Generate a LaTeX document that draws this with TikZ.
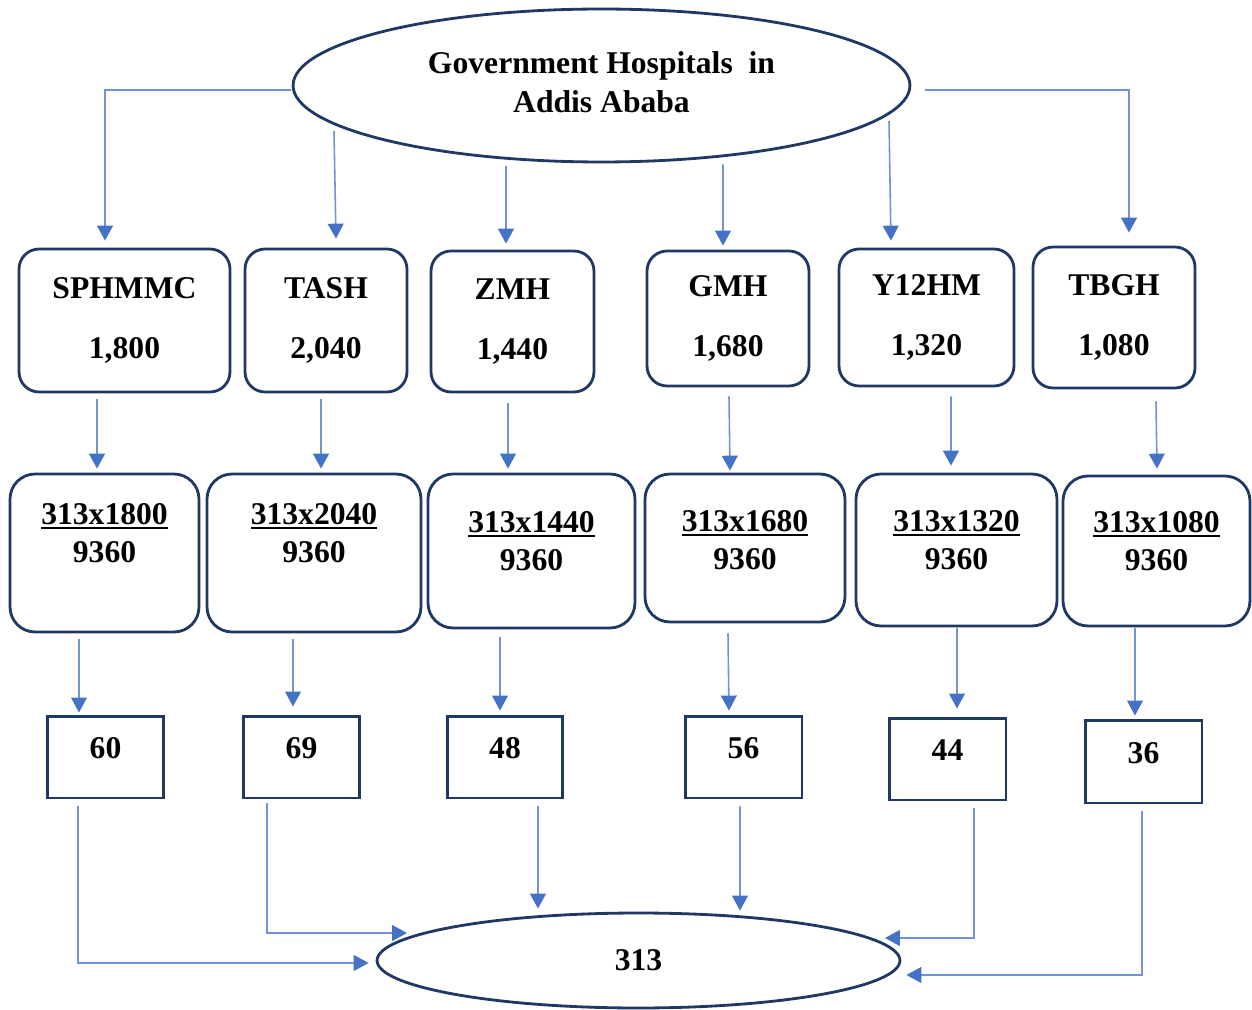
\documentclass[tikz,border=0pt]{standalone}
\usepackage{fontspec}
\setmainfont{Liberation Serif}
\usetikzlibrary{arrows.meta,calc,positioning,shapes.geometric}

\definecolor{boxnavy}{RGB}{31,56,100}
\definecolor{lineblue}{RGB}{112,148,214}
\definecolor{tipblue}{RGB}{68,114,196}

% thick underline and an invisible strut that lifts the text
\newcommand{\ulbar}[1]{\setbox0\hbox{#1}\rlap{\rule[-2.6pt]{\wd0}{1.1pt}}\box0}
\newcommand{\dn}[1]{\rule[-#1]{0pt}{#1}}

\tikzset{
  txt/.style={font=\bfseries\fontsize{18}{22}\selectfont, align=center},
  oval/.style={txt, ellipse, draw=boxnavy, line width=1.6pt, inner sep=0pt},
  hosp/.style={txt, draw=boxnavy, line width=1.6pt, rounded corners=0.4cm},
  calcbox/.style={txt, draw=boxnavy, line width=1.6pt, rounded corners=0.5cm},
  numbox/.style={txt, draw=boxnavy, line width=1.7pt},
  arr/.style={draw=lineblue, line width=0.9pt,
    -{Triangle[length=8.5pt,width=9pt,color=tipblue]}}
}

\begin{document}
\begin{tikzpicture}[x=0.02cm,y=-0.02cm]
  \useasboundingbox (0,0) rectangle (1252,1010);

  % Top and bottom ellipses
  \node[oval, minimum width=12.34cm, minimum height=3.06cm] (top) at (601.5,85.5)
    {Government Hospitals\ \ in\\Addis Ababa\dn{4pt}};
  \node[oval, minimum width=10.46cm, minimum height=1.9cm] (total) at (638.5,960.5) {313};

  % Hospitals
  \node[hosp, minimum width=4.22cm, minimum height=2.86cm] (s1) at (124.5,320.5) {SPHMMC\\[12.6pt]1,800};
  \node[hosp, minimum width=3.24cm, minimum height=2.86cm] (s2) at (326,320.5) {TASH\\[12.6pt]2,040};
  \node[hosp, minimum width=3.26cm, minimum height=2.82cm] (s3) at (512.5,321.5) {ZMH\\[12.6pt]1,440};
  \node[hosp, minimum width=3.24cm, minimum height=2.70cm] (s4) at (728,318.5) {GMH\\[12.6pt]1,680};
  \node[hosp, minimum width=3.50cm, minimum height=2.74cm] (s5) at (926.5,317.5) {Y12HM\\[12.6pt]1,320};
  \node[hosp, minimum width=3.24cm, minimum height=2.82cm] (s6) at (1114,317.5) {TBGH\\[12.6pt]1,080};

  % Proportional allocation
  \node[calcbox, minimum width=3.78cm, minimum height=3.16cm] (c1) at (104.5,553) {\ulbar{313x1800}\\9360\dn{22.6pt}};
  \node[calcbox, minimum width=4.28cm, minimum height=3.16cm] (c2) at (314,553) {\ulbar{313x2040}\\9360\dn{22.6pt}};
  \node[calcbox, minimum width=4.14cm, minimum height=3.08cm] (c3) at (531.5,551) {\ulbar{313x1440}\\9360\dn{11.3pt}};
  \node[calcbox, minimum width=4.00cm, minimum height=2.96cm] (c4) at (745,548) {\ulbar{313x1680}\\9360\dn{9pt}};
  \node[calcbox, minimum width=4.02cm, minimum height=3.04cm] (c5) at (956.5,550) {\ulbar{313x1320}\\9360\dn{11.3pt}};
  \node[calcbox, minimum width=3.74cm, minimum height=3.00cm] (c6) at (1156.5,551) {\ulbar{313x1080}\\9360\dn{11.3pt}};

  % Sample sizes
  \node[numbox, minimum width=2.34cm, minimum height=1.64cm] (r1) at (105.5,757) {60\dn{10pt}};
  \node[numbox, minimum width=2.34cm, minimum height=1.64cm] (r2) at (301.5,757) {69\dn{10pt}};
  \node[numbox, minimum width=2.32cm, minimum height=1.64cm] (r3) at (505,757) {48\dn{10pt}};
  \node[numbox, minimum width=2.34cm, minimum height=1.64cm] (r4) at (743.5,757) {56\dn{10pt}};
  \node[numbox, minimum width=2.34cm, minimum height=1.64cm] (r5) at (947.5,759) {44\dn{10pt}};
  \node[numbox, minimum width=2.34cm, minimum height=1.66cm] (r6) at (1143.5,761.5) {36\dn{10pt}};

  % Top ellipse to hospitals
  \draw[arr] ($(top.west)+(-1,4.5)$) -| ($(s1.north)+(-19.5,-7)$);
  \draw[arr] ($(top.center)+(-267.5,45.5)$) -- ($(s2.north)+(10,-9)$);
  \draw[arr] ($(top.south)+(-95.5,3)$) -- ($(s3.north)+(-6.5,-6)$);
  \draw[arr] ($(top.south)+(121.5,1)$) -- ($(s4.north)+(-5,-4)$);
  \draw[arr] ($(top.center)+(287.5,35.5)$) -- ($(s5.north)+(-35.5,-7)$);
  \draw[arr] ($(top.east)+(14,4.5)$) -| ($(s6.north)+(15,-13)$);

  % Hospitals to allocation
  \draw[arr] ($(s1.south)+(-27.5,6)$) -- ($(c1.north)+(-7.5,-4)$);
  \draw[arr] ($(s2.south)+(-5,6)$) -- ($(c2.north)+(7,-4)$);
  \draw[arr] ($(s3.south)+(-4.5,10)$) -- ($(c3.north)+(-23.5,-4)$);
  \draw[arr] ($(s4.south)+(1,9)$) -- ($(c4.north)+(-15,-2)$);
  \draw[arr] ($(s5.south)+(24.5,9)$) -- ($(c5.north)+(-5.5,-7)$);
  \draw[arr] ($(s6.south)+(42,12)$) -- ($(c6.north)+(0.5,-6)$);

  % Allocation to sample sizes
  \draw[arr] ($(c1.south)+(-25.5,6)$) -- ($(r1.north)+(-26.5,-2)$);
  \draw[arr] ($(c2.south)+(-21,6)$) -- ($(r2.north)+(-8.5,-8)$);
  \draw[arr] ($(c3.south)+(-31.5,8)$) -- ($(r3.north)+(-5,-4)$);
  \draw[arr] ($(c4.south)+(-17,10)$) -- ($(r4.north)+(-14.5,-4)$);
  \draw[arr] ($(c5.south)+(0.5,1)$) -- ($(r5.north)+(9.5,-8)$);
  \draw[arr] ($(c6.south)+(-21.5,1)$) -- ($(r6.north)+(-8.5,-3)$);

  % Sample sizes to total
  \draw[arr] ($(r1.south)+(-27.5,7)$) |- ($(total.west)+(-7,2.5)$);
  \draw[arr] ($(r2.south)+(-34.5,4)$) |- ($(total.center)+(-231.5,-27.5)$);
  \draw[arr] ($(r3.south)+(33,7)$) -- ($(total.north)+(-100.5,-3)$);
  \draw[arr] ($(r4.south)+(-3.5,7)$) -- ($(total.north)+(101.5,-1)$);
  \draw[arr] ($(r5.south)+(26.5,7)$) |- ($(total.center)+(246.5,-22.5)$);
  \draw[arr] ($(r6.south)+(-1.5,7)$) |- ($(total.east)+(5,14.5)$);
\end{tikzpicture}
\end{document}
